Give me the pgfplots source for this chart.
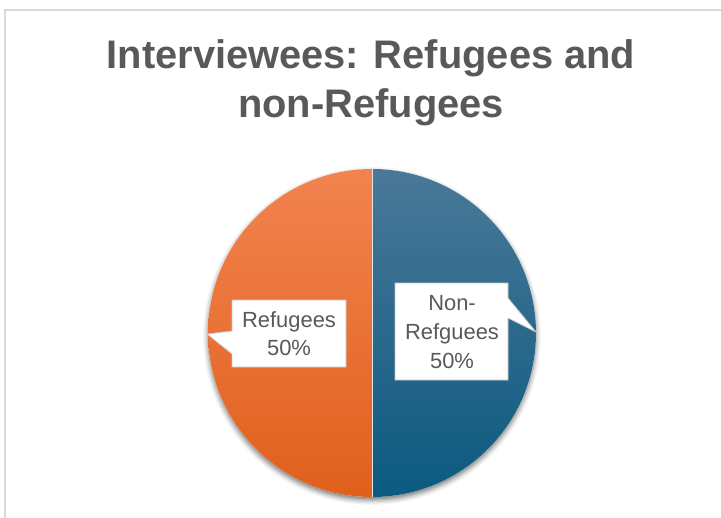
\documentclass[border=0pt]{standalone}
\usepackage{pgfplots}
\pgfplotsset{compat=1.18}
\usepackage{fontspec}
\setmainfont{Liberation Sans}
\usetikzlibrary{shadows.blur}
\definecolor{txtgray}{HTML}{595959}
\definecolor{ortop}{HTML}{F2834F}
\definecolor{orbot}{HTML}{E0601C}
\definecolor{bltop}{HTML}{4A7898}
\definecolor{blbot}{HTML}{0B5A80}
\definecolor{frame}{HTML}{D9D9D9}
% pie data (percent)
\def\valRef{50}
\def\valNon{50}
\pgfmathsetmacro\angNon{360*(\valNon/(\valNon+\valRef))}
\pgfmathsetmacro\angRef{360*(\valRef/(\valNon+\valRef))}
\begin{document}
\begin{tikzpicture}
\begin{axis}[
  scale only axis, width=721bp, height=518bp,
  xmin=0, xmax=721, ymin=0, ymax=518, y dir=reverse,
  hide axis, clip=false]
  % frame
  \draw[frame, line width=1.2bp] (axis cs:5,518) -- (axis cs:5,10) -- (axis cs:721,10);
  % title
  \node[text=txtgray, font=\bfseries\fontsize{40}{49}\selectfont, align=center, anchor=center]
    at (axis cs:371,83) {Interviewees: Refugees and\\non-Refugees};
  % shadow
  \fill[white, blur shadow={shadow xshift=0bp, shadow yshift=-3bp, shadow blur radius=5bp, shadow opacity=55}]
    (axis cs:372,333) circle[radius=164bp];
  % Non-Refugees wedge (clockwise from top)
  \shade[top color=bltop, bottom color=blbot]
    (axis cs:372,333) -- (axis cs:372,169) arc[start angle=90, delta angle=-\angNon, radius=164bp] -- cycle;
  % Refugees wedge
  \shade[top color=ortop, bottom color=orbot]
    (axis cs:372,333) -- (axis cs:372,169) arc[start angle=90, delta angle=\angRef, radius=164bp] -- cycle;
  \draw[white!80!gray, line width=0.6bp] (axis cs:372,169) -- (axis cs:372,497);
  % callouts
  \filldraw[fill=white, draw=gray!45, line width=0.8bp]
    (axis cs:232,300) -- (axis cs:346,300) -- (axis cs:346,367) -- (axis cs:232,367)
    -- (axis cs:232,354) -- (axis cs:207,334) -- (axis cs:232,331) -- cycle;
  \node[text=txtgray, font=\fontsize{22}{28}\selectfont, align=center]
    at (axis cs:289,334) {Refugees\\\valRef\%};
  \filldraw[fill=white, draw=gray!45, line width=0.8bp]
    (axis cs:395,283) -- (axis cs:508,283) -- (axis cs:508,298) -- (axis cs:536,332)
    -- (axis cs:508,318) -- (axis cs:508,380) -- (axis cs:395,380) -- cycle;
  \node[text=txtgray, font=\fontsize{22}{29}\selectfont, align=center]
    at (axis cs:452,332) {Non-\\Refguees\\\valNon\%};
\end{axis}
\pgfresetboundingbox
\path[use as bounding box] (current axis.south west) rectangle (current axis.north east);
\end{tikzpicture}
\end{document}
